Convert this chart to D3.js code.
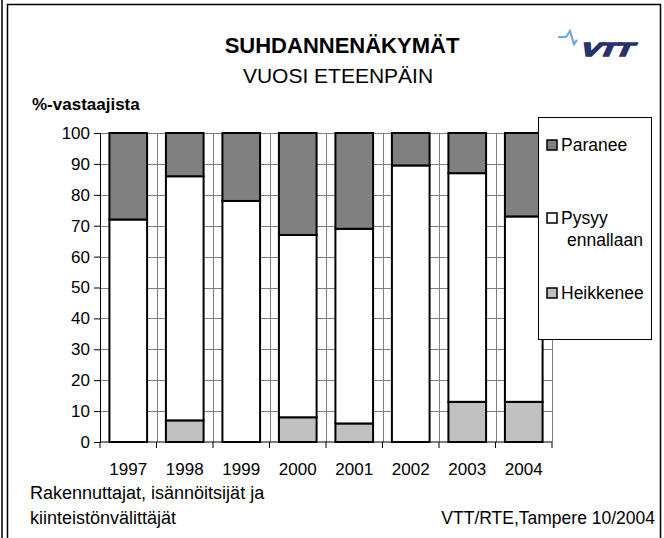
<!DOCTYPE html>
<html>
<head>
<meta charset="utf-8">
<script src="https://cdn.jsdelivr.net/npm/d3@7"></script>
<style>
  body { margin: 0; background: #fff; }
  text { font-family: "Liberation Sans", Arial, sans-serif; fill: #000; }
</style>
</head>
<body>
<div id="chart"></div>
<script>
// data (% of respondents)
const years = ["1997", "1998", "1999", "2000", "2001", "2002", "2003", "2004"];
const heikkenee = [0, 7, 0, 8, 6, 0, 13, 13];
const pysyy = [72, 79, 78, 59, 63, 89.5, 74, 60];
const paranee = [28, 14, 22, 33, 31, 10.5, 13, 27];
const yTicks = [0, 10, 20, 30, 40, 50, 60, 70, 80, 90, 100];

const seriesKeys = ["heikkenee", "pysyy", "paranee"];
const seriesNames = {paranee: "Paranee", pysyy: ["Pysyy", "ennallaan"], heikkenee: "Heikkenee"};
const colors = {heikkenee: "#c0c0c0", pysyy: "#ffffff", paranee: "#808080"};

const width = 664, height = 538;
const margin = {top: 133, right: 112, bottom: 96, left: 100};

// table for d3.stack
const table = years.map((y, i) => ({year: y, heikkenee: heikkenee[i], pysyy: pysyy[i], paranee: paranee[i]}));

let svg = d3.select("#chart")
    .append("svg")
    .attr("width", width)
    .attr("height", height);

// frame
svg.append("line").attr("x1", 2).attr("x2", 2).attr("y1", 0).attr("y2", height)
    .attr("stroke", "#000").attr("stroke-width", 1.5);
svg.append("path")
    .attr("d", `M7.5,${height} V4.5 H660.5 V${height}`)
    .attr("fill", "none").attr("stroke", "#000").attr("stroke-width", 1.5);

let x = d3.scaleBand()
    .domain(years)
    .range([margin.left, width - margin.right])
    .paddingInner(1 / 3)
    .paddingOuter(1 / 6);

let y = d3.scaleLinear()
    .domain([0, 100])
    .range([height - margin.bottom, margin.top]);

// grid lines
svg.append("g")
    .selectAll("line")
    .data(yTicks.slice(1))
    .join("line")
    .attr("x1", margin.left).attr("x2", width - margin.right)
    .attr("y1", d => Math.round(y(d)) + 0.5).attr("y2", d => Math.round(y(d)) + 0.5)
    .attr("stroke", "#808080");

const step = x.step();
svg.append("g")
    .selectAll("line")
    .data(d3.range(1, years.length + 1))
    .join("line")
    .attr("x1", i => Math.round(margin.left + i * step) + 0.5)
    .attr("x2", i => Math.round(margin.left + i * step) + 0.5)
    .attr("y1", y(100)).attr("y2", y(0))
    .attr("stroke", "#808080");

// stacked bars
const stacked = d3.stack().keys(seriesKeys)(table);

svg.append("g")
    .selectAll("g")
    .data(stacked)
    .join("g")
    .attr("fill", d => colors[d.key])
    .selectAll("rect")
    .data(d => d)
    .join("rect")
    .attr("x", d => x(d.data.year))
    .attr("width", x.bandwidth())
    .attr("y", d => y(d[1]))
    .attr("height", d => y(d[0]) - y(d[1]))
    .attr("stroke", "#000")
    .attr("stroke-width", 2);

// axes
const yAxis = g => g
    .attr("transform", `translate(${margin.left}, 0)`)
    .call(d3.axisLeft(y).tickValues(yTicks).tickSize(6).tickPadding(4))
    .call(g => g.selectAll("text").style("font-size", "17px").style("font-family", "Liberation Sans, Arial, sans-serif"));

svg.append("g").call(yAxis);

const xTickPos = d3.range(0, years.length + 1).map(i => margin.left + i * step);
const xAxisG = svg.append("g");
xAxisG.append("line")
    .attr("x1", margin.left).attr("x2", width - margin.right)
    .attr("y1", y(0)).attr("y2", y(0)).attr("stroke", "#000");
xAxisG.selectAll(".tk")
    .data(xTickPos)
    .join("line")
    .attr("class", "tk")
    .attr("x1", d => d).attr("x2", d => d)
    .attr("y1", y(0)).attr("y2", y(0) + 6)
    .attr("stroke", "#000");
xAxisG.selectAll("text")
    .data(years)
    .join("text")
    .attr("x", d => x(d) + x.bandwidth() / 2)
    .attr("y", y(0) + 33)
    .attr("text-anchor", "middle")
    .style("font-size", "17px")
    .text(d => d);

// legend
const legend = svg.append("g");
legend.append("rect")
    .attr("x", 538.5).attr("y", 117.5).attr("width", 113).attr("height", 222)
    .attr("fill", "#fff").attr("stroke", "#000");
const legendY = {paranee: 145, pysyy: 218, heikkenee: 293};
["paranee", "pysyy", "heikkenee"].forEach(k => {
    legend.append("rect")
        .attr("x", 547).attr("y", legendY[k] - 5).attr("width", 10).attr("height", 10)
        .attr("fill", colors[k]).attr("stroke", "#000").attr("stroke-width", 1.5);
    const name = seriesNames[k];
    const lines = Array.isArray(name) ? name : [name];
    lines.forEach((t, j) => {
        legend.append("text")
            .attr("x", j === 0 ? 561 : 567)
            .attr("y", legendY[k] + 6 + j * 22)
            .style("font-size", "17.5px")
            .text(t);
    });
});

// titles
svg.append("text").attr("x", 342).attr("y", 53).attr("text-anchor", "middle")
    .style("font-size", "22px").style("font-weight", "bold").text("SUHDANNENÄKYMÄT");
svg.append("text").attr("x", 338).attr("y", 83).attr("text-anchor", "middle")
    .style("font-size", "21px").text("VUOSI ETEENPÄIN");
svg.append("text").attr("x", 32).attr("y", 110)
    .style("font-size", "17px").style("font-weight", "bold").text("%-vastaajista");

// footer
svg.append("text").attr("x", 30).attr("y", 499).style("font-size", "18px")
    .text("Rakennuttajat, isännöitsijät ja");
svg.append("text").attr("x", 30).attr("y", 524).style("font-size", "18px")
    .text("kiinteistönvälittäjät");
svg.append("text").attr("x", 655).attr("y", 524).attr("text-anchor", "end").style("font-size", "17.5px")
    .text("VTT/RTE,Tampere 10/2004");

// VTT logo
const logo = svg.append("g");
logo.append("path")
    .attr("d", "M558,37 H566 L570,31 L574,44 L577,40")
    .attr("fill", "none").attr("stroke", "#6fa8dc").attr("stroke-width", 2.2);
logo.append("text")
    .attr("transform", "translate(579,56) skewX(-24) scale(1.55,1)")
    .style("font-size", "19px").style("font-weight", "bold")
    .style("fill", "#28306e").style("stroke", "#28306e").style("stroke-width", 1.6)
    .style("letter-spacing", "-1px")
    .text("VTT");
</script>
</body>
</html>
